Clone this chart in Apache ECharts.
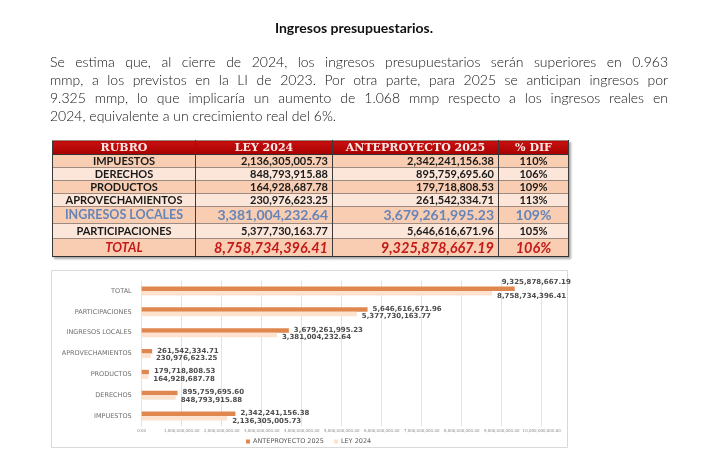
<!DOCTYPE html>
<html>
<head>
<meta charset="utf-8">
<script src="https://cdn.jsdelivr.net/npm/echarts@6/dist/echarts.min.js"></script>
<style>
  html, body { margin:0; padding:0; background:#fff; width:720px; height:462px; overflow:hidden; }
  #chart { position:absolute; left:0; top:0; width:720px; height:462px; z-index:1; }
  .txt { position:absolute; z-index:2; font-family: Lato, "Noto Sans", sans-serif; color:#1a1a1a; }
  #title { left:0; width:708px; top:19px; text-align:center; font-size:14px; font-weight:700; line-height:18px; color:#111; }
  .pl { left:50px; width:618px; font-size:14px; font-weight:300; line-height:18px; text-align:justify; text-align-last:justify; white-space:normal; color:#111; }
  .pl.last { text-align-last:left; }
  #tbl { position:absolute; z-index:2; left:52px; top:140px; border-collapse:collapse; table-layout:fixed;
         border:1.5px solid #333; box-shadow:2px 2px 2px rgba(0,0,0,0.35); font-family: Lato, sans-serif; }
  #tbl td, #tbl th { padding:0 4px; border-left:1px solid #3a3a3a; border-right:1px solid #3a3a3a; border-top:1px solid #9d8a80; white-space:nowrap; overflow:hidden; }
  #tbl th { background:linear-gradient(#c81010,#a80000); color:#fde8e6; font-family:"DejaVu Serif", serif; font-weight:700; font-size:11px; height:13px; line-height:12px; text-align:center; border-bottom:1px solid #333; }
  #tbl td { font-weight:700; font-size:11px; line-height:12px; height:12px; color:#1a1a1a; }
  #tbl td.name { text-align:center; }
  #tbl td.num { text-align:right; }
  #tbl td.pct { text-align:center; }
  #tbl tr.dk td { background:#f8cdb2; }
  #tbl tr.lt td { background:#fce6da; }
  #tbl tr.loc td { color:#6585b9; height:16px; line-height:16px; }
  #tbl tr.loc td.name { font-size:12.5px; }
  #tbl tr.loc td.num, #tbl tr.loc td.pct { font-size:14px; }
  #tbl tr.part td { height:14px; line-height:14px; }
  #tbl tr.tot td { color:#c41a1a; font-style:italic; height:17px; line-height:17px; }
  #tbl tr.tot td.name { font-size:13px; }
  #tbl tr.tot td.num, #tbl tr.tot td.pct { font-size:14.5px; }
</style>
</head>
<body>
<div id="chart"></div>
<div id="title" class="txt">Ingresos presupuestarios.</div>
<div class="txt pl" style="top:53px">Se estima que, al cierre de 2024, los ingresos presupuestarios serán superiores en 0.963</div>
<div class="txt pl" style="top:71px">mmp, a los previstos en la LI de 2023. Por otra parte, para 2025 se anticipan ingresos por</div>
<div class="txt pl" style="top:89px">9.325 mmp, lo que implicaría un aumento de 1.068 mmp respecto a los ingresos reales en</div>
<div class="txt pl last" style="top:107px">2024, equivalente a un crecimiento real del 6%.</div>
<table id="tbl">
  <colgroup><col style="width:143px"><col style="width:137px"><col style="width:166px"><col style="width:70px"></colgroup>
  <thead><tr id="hdr"></tr></thead>
  <tbody id="tbody"></tbody>
</table>
<script>
// ---- data ----
const headers = ['RUBRO', 'LEY 2024', 'ANTEPROYECTO 2025', '% DIF'];
const categories = ['IMPUESTOS', 'DERECHOS', 'PRODUCTOS', 'APROVECHAMIENTOS', 'INGRESOS LOCALES', 'PARTICIPACIONES', 'TOTAL'];
const ley2024 = [2136305005.73, 848793915.88, 164928687.78, 230976623.25, 3381004232.64, 5377730163.77, 8758734396.41];
const ante2025 = [2342241156.38, 895759695.60, 179718808.53, 261542334.71, 3679261995.23, 5646616671.96, 9325878667.19];
const pctDif = [110, 106, 109, 113, 109, 105, 106];
const seriesNames = ['ANTEPROYECTO 2025', 'LEY 2024'];

function fmt(v) { return v.toLocaleString('en-US', { minimumFractionDigits: 2, maximumFractionDigits: 2 }); }

// ---- table ----
const hdr = document.getElementById('hdr');
headers.forEach(h => { const th = document.createElement('th'); th.textContent = h; hdr.appendChild(th); });
const tbody = document.getElementById('tbody');
const rowCls = ['dk', 'lt', 'dk', 'lt', 'dk loc', 'lt part', 'dk tot'];
categories.forEach((c, i) => {
  const tr = document.createElement('tr');
  tr.className = rowCls[i];
  const cells = [[c, 'name'], [fmt(ley2024[i]), 'num'], [fmt(ante2025[i]), 'num'], [pctDif[i] + '%', 'pct']];
  cells.forEach(([t, cls]) => { const td = document.createElement('td'); td.className = cls; td.textContent = t; tr.appendChild(td); });
  tbody.appendChild(tr);
});

// ---- chart ----
const chart = echarts.init(document.getElementById('chart'), null, { renderer: 'canvas' });
const last = categories.length - 1;
const labelFont = { fontFamily: 'DejaVu Sans', fontSize: 7, fontWeight: 'bold', color: '#4d4d4d' };
chart.setOption({
  animation: false,
  graphic: [{
    type: 'rect', z: -1,
    shape: { x: 51.5, y: 270.5, width: 516, height: 177 },
    style: { fill: 'none', stroke: '#d9d9d9', lineWidth: 1 }
  }],
  legend: {
    data: seriesNames,
    left: 246, top: 438, padding: 0,
    icon: 'rect', itemWidth: 4, itemHeight: 4, itemGap: 10,
    textStyle: { fontFamily: 'DejaVu Sans', fontSize: 6.5, color: '#5a5a5a', padding: [0, 0, 0, -2] }
  },
  grid: { left: 141.7, right: 178.3, top: 280.6, bottom: 35.6, containLabel: false },
  xAxis: {
    type: 'value', min: 0, max: 10000000000, interval: 1000000000,
    axisLine: { show: false }, axisTick: { show: false },
    splitLine: { show: true, lineStyle: { color: '#e3e3e3', width: 1 } },
    axisLabel: { fontFamily: 'DejaVu Sans', fontSize: 4, color: '#8a8a8a', margin: 3, formatter: v => fmt(v) }
  },
  yAxis: {
    type: 'category', data: categories,
    axisLine: { show: false }, axisTick: { show: false },
    axisLabel: { fontFamily: 'DejaVu Sans', fontSize: 6.5, color: '#6e6e6e', margin: 10 }
  },
  series: [
    {
      name: 'ANTEPROYECTO 2025', type: 'bar', data: ante2025.map((v, i) => i === last ? { value: v, label: { offset: [-18, -7] } } : v),
      barWidth: 4.5, barGap: '0%',
      itemStyle: { color: '#e0874f' },
      label: Object.assign({ show: true, position: 'right', distance: 5, offset: [0, -0.5], formatter: p => fmt(p.value) }, labelFont)
    },
    {
      name: 'LEY 2024', type: 'bar', data: ley2024,
      barWidth: 4.5, barGap: '0%',
      itemStyle: { color: '#fce2cf' },
      label: Object.assign({ show: true, position: 'right', distance: 5, offset: [0, 2.5], formatter: p => fmt(p.value) }, labelFont)
    }
  ]
});
</script>
</body>
</html>
